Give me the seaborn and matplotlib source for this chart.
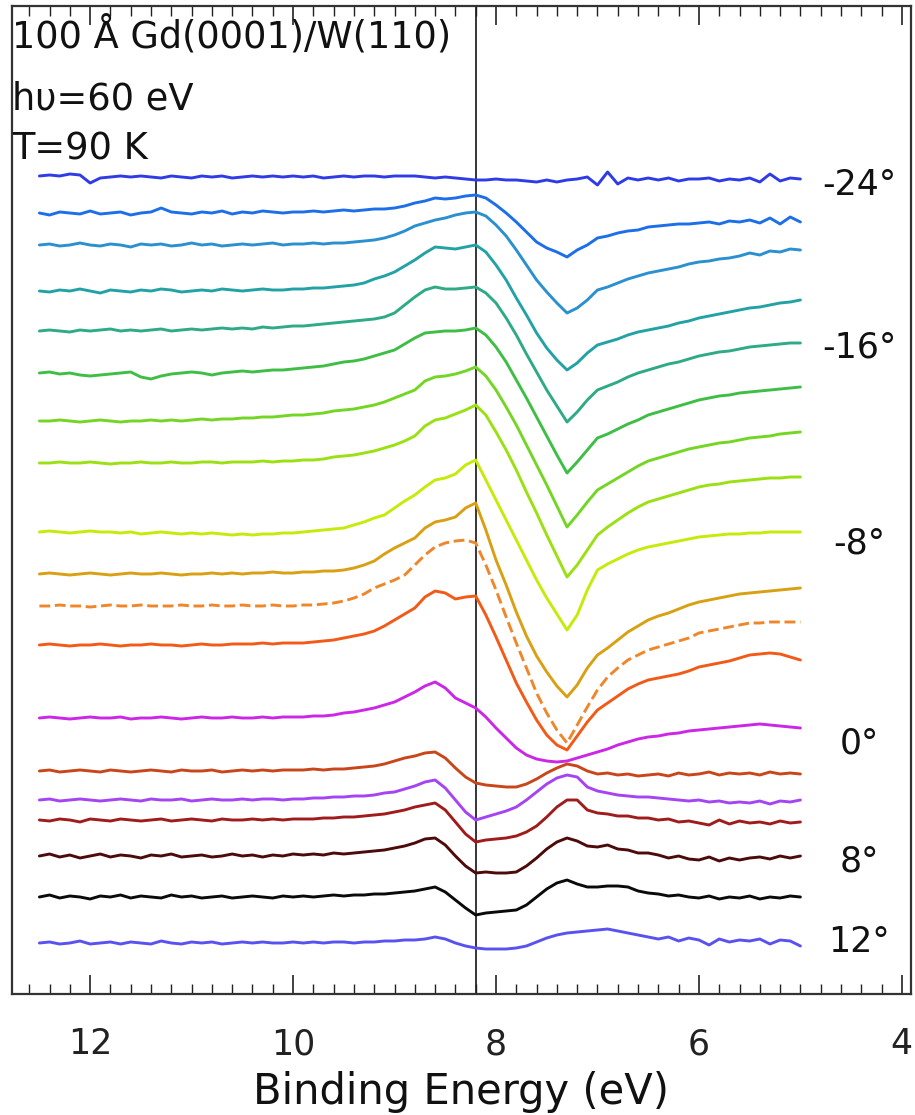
import numpy as np
import pandas as pd
import matplotlib
matplotlib.use("Agg")
import matplotlib.pyplot as plt
from matplotlib.ticker import MultipleLocator
import seaborn as sns

# ---------------- data ----------------
# binding energy grid of the spectra (eV), 12.5 -> 5.0
energy = np.round(np.arange(12.5, 4.95, -0.1), 1)

# vertical offset (arb. units) of each spectrum in the stack, top to bottom
offsets = [818, 781, 749, 703, 663, 621, 573, 531, 462, 420, 388, 349, 276, 223, 194, 174, 138, 97, 51]

# spectra relative to their offsets (arb. units), top to bottom
s01 = [0, 1, 0, 2, 1, -7, -2, -1, 0, -1, 0, -1, -2, 0, -1, -2, 0, -1, 0, -2, -1, 0, -1, 0, -1, 0,
       -1, 0, -2, -1, 0, -1, 0, 0, -1, 0, 0, 0, -1, -2, -1, -2, -3, -4, -4, -3, -4, -4, -5, -6, -4, -6, -4,
       -3, -1, -9, 4, -8, -2, -4, -2, -4, -2, -5, -3, -3, -2, -5, -3, -4, -2, -6, 2, -5, -2, -3]
s02 = [0, -2, 1, 0, -1, 2, -1, 0, 1, -2, 0, 1, 5, 1, 0, -1, 1, 0, 2, -1, 1, 0, 2, 1, 0, 1,
       1, 2, 1, 2, 3, 2, 3, 4, 4, 5, 7, 10, 12, 15, 14, 15, 17, 18, 15, 8, 0, -9, -19, -29, -35, -39, -44,
       -37, -32, -25, -23, -20, -18, -17, -14, -13, -12, -11, -11, -10, -9, -11, -8, -9, -7, -10, -5, -11, -4, -9]
s03 = [0, 1, -1, 0, 2, 0, -1, 1, 0, -2, 1, 0, 1, -1, 0, 2, 0, 1, -1, 0, 1, 0, 1, 2, 0, 1,
       1, 2, 1, 2, 2, 3, 4, 5, 7, 10, 14, 19, 22, 25, 27, 30, 32, 33, 29, 20, 9, -5, -20, -35, -47, -58, -68,
       -63, -55, -45, -42, -38, -34, -31, -28, -26, -24, -22, -19, -17, -16, -14, -13, -11, -8, -10, -6, -7, -4, -5]
s04 = [0, -1, 1, 0, 2, 0, -2, 1, 0, -1, 1, 0, 2, 1, -1, 0, 1, 0, 2, 1, 0, 1, 2, 1, 1, 2,
       2, 3, 3, 4, 5, 6, 8, 12, 15, 19, 25, 31, 38, 44, 43, 42, 44, 46, 39, 26, 11, -7, -24, -42, -57, -69, -79,
       -72, -62, -54, -51, -48, -44, -41, -39, -37, -35, -32, -30, -27, -25, -23, -21, -19, -17, -16, -14, -12, -11, -9]
s05 = [0, 1, 0, -1, 1, 0, 1, 2, 0, 1, 0, 1, 2, 0, 1, 2, 1, 2, 3, 2, 3, 2, 4, 3, 4, 5,
       5, 6, 7, 8, 9, 10, 11, 12, 14, 18, 26, 34, 41, 44, 42, 42, 43, 44, 38, 28, 13, -4, -23, -41, -59, -75, -91,
       -81, -69, -59, -55, -51, -46, -42, -39, -36, -33, -31, -28, -25, -23, -21, -20, -18, -16, -15, -14, -13, -12, -12]
s06 = [0, 1, -1, 0, -2, -3, -2, -1, 0, 1, -4, -6, -3, -1, 0, 1, 0, -2, 0, 1, 2, 1, 2, 3, 3, 4,
       5, 6, 7, 9, 11, 12, 14, 17, 20, 23, 29, 35, 40, 41, 42, 42, 43, 45, 38, 26, 11, -7, -25, -44, -63, -82, -100,
       -89, -77, -65, -61, -56, -51, -47, -42, -39, -36, -33, -30, -27, -25, -23, -22, -20, -19, -18, -17, -16, -15, -14]
s07 = [0, 0, 1, 0, -1, 0, 1, 0, -1, 0, 0, 1, 0, 1, 0, 1, 2, 1, 2, 2, 3, 3, 4, 4, 5, 6,
       6, 7, 8, 10, 11, 12, 14, 16, 19, 23, 27, 31, 40, 44, 45, 47, 50, 54, 45, 31, 14, -4, -24, -44, -64, -85, -106,
       -94, -81, -69, -63, -57, -51, -45, -40, -37, -34, -31, -28, -26, -24, -22, -21, -19, -17, -16, -15, -13, -12, -11]
s08 = [0, 0, 1, 0, 0, 1, 0, -1, 0, 0, 1, 0, 0, 1, 0, 0, 1, 1, 0, 1, 1, 1, 2, 1, 2, 2,
       3, 3, 4, 6, 7, 8, 10, 12, 15, 18, 22, 27, 37, 43, 45, 49, 53, 58, 48, 31, 13, -7, -29, -50, -72, -93, -114,
       -102, -87, -72, -64, -57, -50, -44, -39, -36, -33, -30, -27, -24, -22, -21, -19, -18, -17, -16, -15, -15, -14, -14]
s09 = [0, 1, 0, -1, 0, 1, 0, 0, -1, 0, -2, -1, 0, -1, -2, -1, -2, -1, -2, -3, -2, -3, -2, -2, -1, -1,
       0, 1, 2, 3, 4, 7, 10, 14, 17, 24, 31, 37, 45, 52, 54, 58, 67, 72, 52, 32, 12, -8, -28, -48, -66, -82, -98,
       -83, -58, -38, -32, -27, -22, -18, -15, -13, -11, -9, -7, -5, -4, -3, -2, -2, -1, -1, 0, 0, 0, 0]
s10 = [0, 1, 0, -1, 0, 1, 0, -1, 0, 1, 0, 0, 1, 0, -1, 0, 0, 1, 0, 1, 0, 1, 1, 2, 1, 1,
       2, 2, 3, 3, 4, 6, 9, 13, 20, 26, 31, 36, 46, 52, 54, 57, 66, 71, 44, 14, -11, -38, -62, -82, -98, -112, -123,
       -111, -94, -81, -74, -66, -58, -52, -46, -42, -39, -35, -31, -28, -26, -24, -22, -20, -19, -18, -17, -16, -15, -14]
s11 = [0, 0, 1, 0, 0, -1, 0, 1, 0, 0, 1, 0, 0, 0, 1, 0, 0, 1, 0, 0, 1, 0, 0, 1, 0, 0,
       1, 1, 2, 3, 5, 8, 12, 18, 22, 26, 31, 41, 51, 59, 63, 65, 66, 63, 41, 16, -11, -37, -62, -87, -107, -124, -137,
       -119, -101, -84, -71, -62, -54, -49, -44, -41, -38, -35, -32, -27, -25, -23, -21, -19, -17, -17, -16, -16, -16, -16]
s12 = [0, 1, 0, -1, 0, 0, 1, 0, -1, 0, 0, 1, 0, 0, -1, 0, 1, 0, 0, 1, 1, 1, 2, 1, 2, 2,
       2, 3, 4, 5, 7, 9, 11, 14, 19, 25, 31, 37, 48, 54, 52, 46, 48, 49, 30, 8, -15, -38, -57, -75, -90, -100, -105,
       -91, -77, -65, -58, -51, -44, -39, -35, -33, -31, -29, -26, -22, -20, -18, -16, -13, -10, -9, -8, -9, -12, -15]
s13 = [0, 1, 0, -1, 0, 1, 0, 0, 1, -1, 0, 0, 1, 0, -1, 0, 1, 0, 0, 1, 0, 0, 1, 0, 1, 1,
       1, 2, 2, 3, 5, 6, 8, 10, 13, 16, 21, 26, 32, 36, 30, 20, 15, 10, 1, -10, -20, -30, -37, -41, -43, -44, -43,
       -40, -37, -34, -31, -27, -24, -21, -19, -18, -16, -15, -13, -12, -11, -10, -9, -8, -7, -6, -7, -8, -9, -10]
s14 = [0, 1, -1, 0, 1, 0, -1, 1, 0, -1, 0, 1, 0, -1, 1, 0, 0, 1, -1, 0, 1, 0, 1, 0, 1, 1,
       1, 2, 1, 2, 2, 3, 4, 5, 7, 10, 13, 15, 18, 19, 13, 3, -6, -12, -14, -15, -16, -16, -13, -8, -2, 3, 7,
       5, 0, -3, -2, -4, -3, -5, -4, -3, -5, -2, -4, -3, -1, -4, -2, -3, -2, -4, -1, -3, -2, -3]
s15 = [0, 1, -1, 0, 1, 0, -1, 0, 1, 0, -1, 1, 0, 0, 1, -1, 0, 1, 0, 0, 1, 0, 1, 1, 0, 1,
       1, 2, 2, 3, 3, 4, 4, 5, 7, 8, 11, 14, 18, 20, 12, 0, -12, -20, -17, -14, -11, -7, 0, 8, 16, 22, 25,
       23, 13, 9, 7, 5, 4, 3, 3, 2, 1, 0, -1, 0, -2, -1, -3, -2, -3, -1, -4, -1, -2, 0]
s16 = [0, -1, 1, 0, -2, 1, 0, -1, 1, 0, -1, 0, 1, -1, 0, 1, 0, -1, 1, 0, 0, 1, 0, 1, 0, 1,
       1, 1, 2, 2, 3, 3, 4, 5, 6, 8, 10, 13, 15, 17, 10, -2, -14, -22, -20, -19, -18, -16, -12, -6, 3, 13, 20,
       20, 10, 7, 6, 4, 4, 2, 2, 0, 1, -2, -1, -3, -5, 0, -4, -1, -3, -2, -4, -1, -3, -2]
s17 = [0, 2, -1, 1, -2, 0, 2, -1, 1, 0, -2, 1, 0, 2, -1, 0, 1, -1, 0, 2, 0, 1, -1, 1, 0, 2,
       1, 2, 1, 3, 2, 3, 4, 5, 6, 8, 10, 13, 17, 18, 11, 0, -10, -17, -16, -17, -17, -16, -10, -2, 7, 14, 18,
       15, 10, 9, 11, 7, 6, 3, 3, 1, -2, 0, -3, -4, -1, -5, -2, -4, -2, -1, -3, 0, -2, 0]
s18 = [0, 2, -1, 1, 0, -2, 1, 0, 2, -1, 1, 0, -1, 2, 0, 1, -1, 0, 1, -1, 0, 1, 0, -1, 1, 0,
       1, 0, 1, 2, 1, 2, 2, 3, 3, 4, 5, 6, 8, 10, 5, -3, -11, -18, -16, -15, -14, -13, -8, 0, 8, 14, 17,
       13, 10, 10, 11, 11, 10, 6, 4, 3, 1, 2, 0, -1, 1, -2, 0, -1, 1, -2, 0, -1, 1, 0]
s19 = [0, 1, -1, 0, 2, -1, 0, 1, -1, 1, 0, -1, 2, 0, -1, 1, 0, 1, -1, 0, 1, 0, 1, 0, 0, 1,
       0, 1, 0, 1, 1, 0, 1, 1, 2, 2, 3, 3, 4, 6, 4, 0, -3, -5, -6, -6, -6, -5, -3, 1, 5, 8, 10,
       11, 12, 13, 14, 12, 10, 8, 6, 4, 6, 2, 5, 3, -2, 4, 1, 3, 2, 4, -1, 3, 2, -3]
shapes = [s01, s02, s03, s04, s05, s06, s07, s08, s09, s10, s11, s12, s13, s14, s15, s16, s17, s18, s19]

colors = ["#2f3ce6", "#1c6fe8", "#2a90cf", "#23a2a6", "#2eaa86", "#3fbe45", "#74d624",
          "#9ae012", "#c6ea0a", "#d8a012", "#f0862a", "#f25a18", "#cc26e6", "#c8461a",
          "#a444f2", "#a01c1c", "#4c0a0a", "#0a0a0a", "#5a52f0"]
dashed = [False] * 10 + [True] + [False] * 8

angle_labels = ["-24°", "-16°", "-8°", "0°", "8°", "12°"]
angle_levels = [809, 647, 450, 250, 133, 52]

fermi_line = 8.2
info_lines = ["100 Å Gd(0001)/W(110)", "hυ=60 eV", "T=90 K"]

# ---------------- plot ----------------
sns.set_theme(style="white")
plt.rcParams["font.family"] = ["DejaVu Sans"]

fig = plt.figure(figsize=(9.15, 11.15), dpi=100)
ax = fig.add_axes([12 / 915, 121 / 1115, 899 / 915, 988 / 1115])

for k, (off, shp) in enumerate(zip(offsets, shapes)):
    assert len(shp) == len(energy)
    df = pd.DataFrame({"energy": energy, "intensity": off + np.array(shp)})
    sns.lineplot(data=df, x="energy", y="intensity", color=colors[k], linewidth=2.1,
                 estimator=None, sort=False, ax=ax,
                 linestyle="--" if dashed[k] else "-",
                 dashes=(2.2, 2.2) if dashed[k] else None)

ax.axvline(fermi_line, color="black", linewidth=1.1, zorder=0.5)

ax.set_xlim(12.77, 3.91)
ax.set_ylim(0, 988)
ax.set_xticks([12, 10, 8, 6, 4])
ax.xaxis.set_minor_locator(MultipleLocator(0.2))
ax.set_yticks([])
ax.tick_params(axis="x", which="both", direction="in", top=True, bottom=True,
               labelsize=25, pad=24, colors="#222222")
ax.tick_params(axis="x", which="major", length=14, width=1.2)
ax.tick_params(axis="x", which="minor", length=7, width=1.0)
ax.set_xlabel("Binding Energy (eV)", fontsize=30, labelpad=7, color="#111111")
ax.set_ylabel("")
for sp in ax.spines.values():
    sp.set_color("#333333")
    sp.set_linewidth(1.6)

for lab, lev in zip(angle_labels, angle_levels):
    ax.text(4.42, lev, lab, ha="center", va="center", fontsize=25, color="#111111")

for txt, ypx in zip(info_lines, [36, 99, 149]):
    fig.text(12 / 915, 1 - ypx / 1115, txt, ha="left", va="center", fontsize=26.5, color="#111111")

fig.savefig("out.png", dpi=100)
